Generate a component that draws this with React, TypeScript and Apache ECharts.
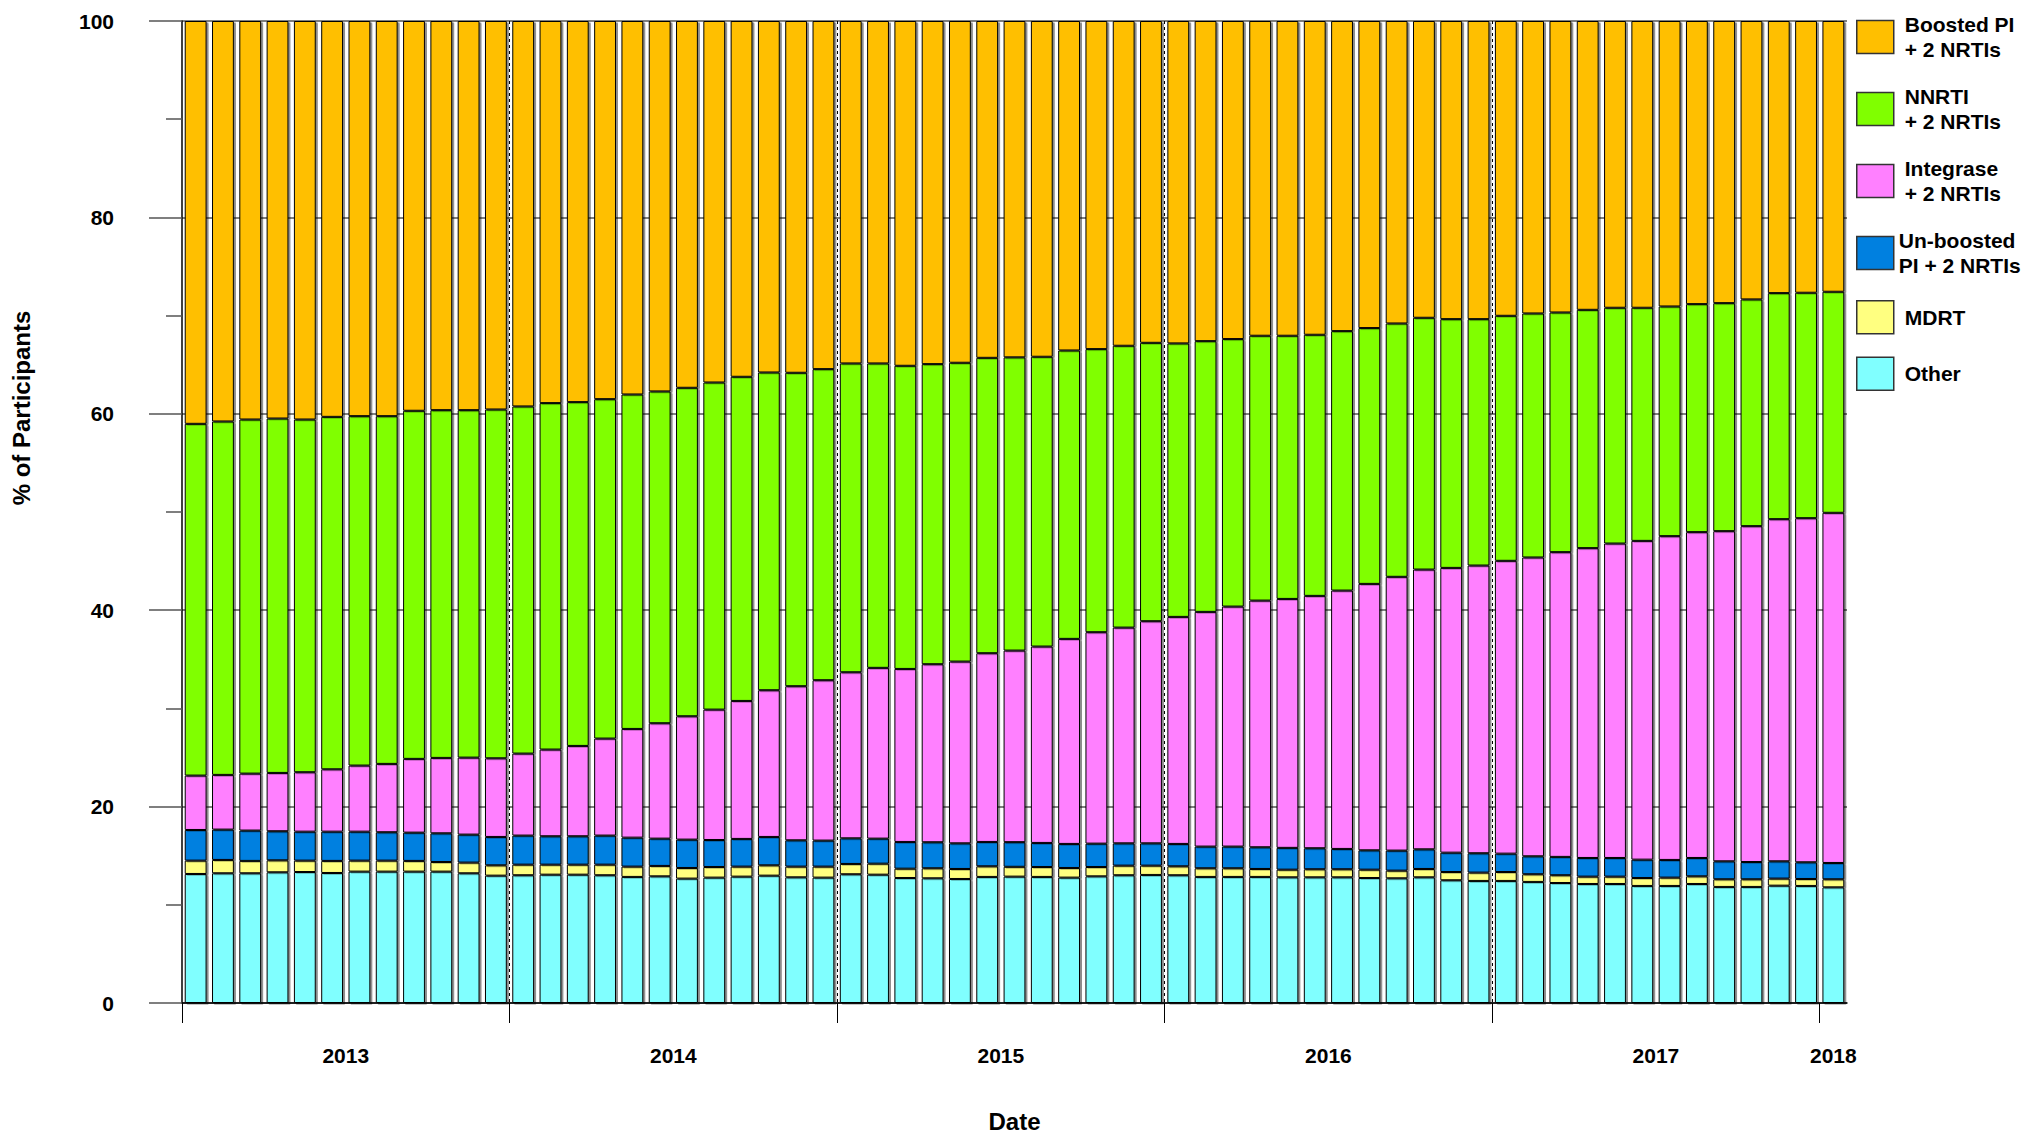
import React, { useEffect, useRef } from 'react';
import * as echarts from 'echarts';

// ---------- data ----------
const startYear = 2013;
const monthCount = 61;
const categories: string[] = [];
for (let i = 0; i < monthCount; i++) {
  const y = startYear + Math.floor(i / 12);
  const m = (i % 12) + 1;
  categories.push(`${y}-${String(m).padStart(2, '0')}`);
}
const yearLabels = ['2013', '2014', '2015', '2016', '2017', '2018'];

const other = [
  13.14, 13.21, 13.21, 13.31, 13.34, 13.24, 13.38, 13.38, 13.38, 13.38, 13.21, 12.97,
  13.01, 13.07, 13.07, 13.01, 12.84, 12.9, 12.67, 12.77, 12.87, 12.97, 12.8, 12.77,
  13.11, 13.07, 12.73, 12.7, 12.63, 12.84, 12.87, 12.84, 12.77, 12.9, 13.01, 13.04,
  13.01, 12.84, 12.84, 12.84, 12.8, 12.8, 12.8, 12.73, 12.7, 12.8, 12.5, 12.43,
  12.43, 12.33, 12.22, 12.12, 12.12, 11.92, 11.92, 12.12, 11.82, 11.82, 11.95, 11.92,
  11.78,
];
const mdrt = [
  1.36, 1.36, 1.26, 1.22, 1.16, 1.23, 1.12, 1.12, 1.09, 0.98, 1.09, 1.05,
  1.08, 1.02, 1.02, 1.08, 1.05, 1.06, 1.08, 1.08, 1.02, 1.05, 1.09, 1.12,
  1.05, 1.12, 0.95, 1.02, 1.02, 1.08, 1.0, 1.01, 0.98, 0.95, 0.98, 0.95,
  0.91, 0.88, 0.88, 0.81, 0.78, 0.82, 0.82, 0.85, 0.78, 0.85, 0.84, 0.85,
  0.91, 0.78, 0.79, 0.75, 0.75, 0.81, 0.85, 0.78, 0.78, 0.78, 0.72, 0.71,
  0.82,
];
const unboosted = [
  3.12, 3.09, 3.09, 2.96, 2.95, 2.98, 2.95, 2.89, 2.88, 2.92, 2.85, 2.89,
  2.96, 2.89, 2.89, 2.96, 2.95, 2.78, 2.89, 2.75, 2.82, 2.89, 2.68, 2.65,
  2.61, 2.55, 2.72, 2.65, 2.61, 2.48, 2.51, 2.45, 2.45, 2.38, 2.27, 2.27,
  2.28, 2.21, 2.21, 2.21, 2.22, 2.14, 2.07, 1.97, 2.04, 2.0, 1.97, 1.97,
  1.87, 1.83, 1.87, 1.9, 1.9, 1.87, 1.8, 1.87, 1.83, 1.76, 1.76, 1.7,
  1.66,
];
const integrase = [
  5.54, 5.57, 5.8, 5.94, 6.05, 6.35, 6.73, 6.96, 7.51, 7.68, 7.84, 8.01,
  8.35, 8.83, 9.2, 9.88, 11.07, 11.75, 12.56, 13.28, 14.05, 14.94, 15.69, 16.33,
  16.91, 17.39, 17.62, 18.13, 18.51, 19.22, 19.51, 20.0, 20.88, 21.53, 21.97, 22.62,
  23.12, 23.9, 24.44, 25.12, 25.35, 25.7, 26.31, 27.13, 27.88, 28.49, 29.0, 29.3,
  29.82, 30.43, 31.03, 31.55, 32.02, 32.46, 32.97, 33.18, 33.62, 34.2, 34.84, 35.04,
  35.66,
];
const nnrti = [
  35.82, 35.99, 36.06, 36.09, 35.92, 35.89, 35.58, 35.41, 35.45, 35.41, 35.38, 35.52,
  35.35, 35.28, 35.01, 34.56, 34.06, 33.79, 33.45, 33.31, 33.01, 32.36, 31.92, 31.68,
  31.45, 31.0, 30.87, 30.56, 30.43, 30.08, 29.86, 29.51, 29.37, 28.83, 28.7, 28.35,
  27.85, 27.57, 27.24, 26.97, 26.8, 26.59, 26.42, 26.05, 25.8, 25.64, 25.33, 25.09,
  24.95, 24.85, 24.41, 24.27, 24.01, 23.74, 23.39, 23.22, 23.22, 23.09, 23.02, 22.96,
  22.51,
];
const boosted = [
  41.02, 40.78, 40.58, 40.48, 40.58, 40.31, 40.24, 40.24, 39.69, 39.63, 39.63, 39.56,
  39.25, 38.91, 38.81, 38.51, 38.03, 37.72, 37.35, 36.81, 36.23, 35.79, 35.82, 35.45,
  34.87, 34.87, 35.11, 34.94, 34.8, 34.3, 34.25, 34.19, 33.55, 33.41, 33.07, 32.77,
  32.83, 32.6, 32.39, 32.05, 32.05, 31.95, 31.58, 31.27, 30.8, 30.22, 30.36, 30.36,
  30.02, 29.78, 29.68, 29.41, 29.2, 29.2, 29.07, 28.83, 28.73, 28.35, 27.71, 27.67,
  27.57,
];

const seriesNames = [
  'Other',
  'MDRT',
  'Un-boosted PI + 2 NRTIs',
  'Integrase + 2 NRTIs',
  'NNRTI + 2 NRTIs',
  'Boosted PI + 2 NRTIs',
];
const seriesValues = [other, mdrt, unboosted, integrase, nnrti, boosted];
const seriesColors = ['#80FFFF', '#FFFF80', '#0080E0', '#FF80FF', '#80FF00', '#FFBF00'];
const legendTexts: Record<string, string> = {
  'Boosted PI + 2 NRTIs': 'Boosted PI\n+ 2 NRTIs',
  'NNRTI + 2 NRTIs': 'NNRTI\n+ 2 NRTIs',
  'Integrase + 2 NRTIs': 'Integrase\n+ 2 NRTIs',
  'Un-boosted PI + 2 NRTIs': 'Un-boosted\nPI + 2 NRTIs',
  MDRT: 'MDRT',
  Other: 'Other',
};

const FONT = 'Liberation Sans, Arial, Helvetica, sans-serif';

// year boundaries and centres derived from the category list
const yearFirst = yearLabels.map((y) => categories.findIndex((c) => c.startsWith(y)));
const yearLast = yearLabels.map((y) => {
  let last = -1;
  categories.forEach((c, i) => {
    if (c.startsWith(y)) last = i;
  });
  return last;
});
const yearCenters = yearLabels.map((_, k) => (yearFirst[k] + yearLast[k] + 1) / 2);

export default function App() {
  const ref = useRef<HTMLDivElement>(null);

  useEffect(() => {
    if (!ref.current) return;
    const chart = echarts.init(ref.current, undefined, { renderer: 'svg' });

    const series = seriesNames.map((name, k) => ({
      name,
      type: 'bar',
      stack: 'total',
      xAxisIndex: 0,
      yAxisIndex: 0,
      barCategoryGap: '20%',
      data: seriesValues[k],
      itemStyle: {
        color: seriesColors[k],
        borderColor: '#000',
        borderWidth: 1,
        shadowColor: 'rgba(0,0,0,0.45)',
        shadowBlur: 0,
        shadowOffsetX: 2,
        shadowOffsetY: 1.5,
      },
      emphasis: { disabled: true },
    }));

    const legendOrder = [...seriesNames].reverse();

    chart.setOption({
      animation: false,
      backgroundColor: '#fff',
      textStyle: { fontFamily: FONT },
      grid: {
        left: 182,
        right: 178,
        top: 21,
        bottom: 130,
        containLabel: false,
        outerBoundsMode: 'none',
      },
      legend: {
        orient: 'vertical',
        left: 1856,
        top: 12,
        padding: 0,
        itemWidth: 37,
        itemHeight: 33,
        itemGap: 22,
        icon: 'rect',
        data: legendOrder.map((name) =>
          name === 'Un-boosted PI + 2 NRTIs'
            ? { name, textStyle: { padding: [0, 0, 0, 0] } }
            : { name }
        ),
        formatter: (name: string) => legendTexts[name] ?? name,
        itemStyle: { borderColor: '#333', borderWidth: 1.5, shadowColor: 'transparent' },
        textStyle: {
          fontFamily: FONT,
          fontSize: 21,
          fontWeight: 'bold',
          lineHeight: 25,
          color: '#000',
          padding: [0, 0, 0, 6],
        },
      },
      xAxis: [
        {
          type: 'category',
          position: 'bottom',
          data: categories,
          boundaryGap: true,
          axisLine: { show: true, lineStyle: { color: '#000', width: 1.5 } },
          axisTick: { show: false },
          axisLabel: { show: false },
          splitLine: { show: false },
        },
        {
          type: 'value',
          position: 'bottom',
          min: 0,
          max: monthCount,
          interval: 12,
          axisLine: { show: false },
          axisTick: {
            show: true,
            length: 20,
            customValues: yearFirst,
            lineStyle: { color: '#000', width: 1 },
          },
          axisLabel: {
            show: true,
            customValues: yearCenters,
            margin: 42,
            fontFamily: FONT,
            fontSize: 21,
            fontWeight: 'bold',
            color: '#000',
            formatter: (v: number) => {
              const k = yearCenters.findIndex((c) => Math.abs(c - v) < 1e-6);
              return k >= 0 ? yearLabels[k] : '';
            },
          },
          splitLine: {
            show: true,
            showMinLine: false,
            showMaxLine: false,
            lineStyle: { color: '#000', type: [3, 3], width: 1 },
          },
          name: 'Date',
          nameLocation: 'middle',
          nameGap: 106,
          nameTextStyle: { fontFamily: FONT, fontSize: 24, fontWeight: 'bold', color: '#000' },
        },
      ],
      yAxis: {
        type: 'value',
        min: 0,
        max: 100,
        interval: 20,
        axisLine: { show: true, lineStyle: { color: '#000', width: 1.5 } },
        axisTick: { show: true, length: 33, lineStyle: { color: '#555', width: 1.5 } },
        minorTick: { show: true, splitNumber: 2, length: 16, lineStyle: { color: '#555', width: 1.5 } },
        axisLabel: {
          margin: 68,
          fontFamily: FONT,
          fontSize: 21,
          fontWeight: 'bold',
          color: '#000',
        },
        splitLine: { show: true, lineStyle: { color: '#555', width: 1.5 } },
        minorSplitLine: { show: false },
        name: '% of Participants',
        nameLocation: 'middle',
        nameGap: 149,
        nameTextStyle: {
          fontFamily: FONT,
          fontSize: 24,
          fontWeight: 'bold',
          color: '#000',
          padding: [0, 0, 0, 208],
        },
      },
      series,
    });

    return () => chart.dispose();
  }, []);

  return (
    <div
      ref={ref}
      style={{ position: 'absolute', left: 0, top: 0, width: 2025, height: 1133, background: '#fff' }}
    />
  );
}
